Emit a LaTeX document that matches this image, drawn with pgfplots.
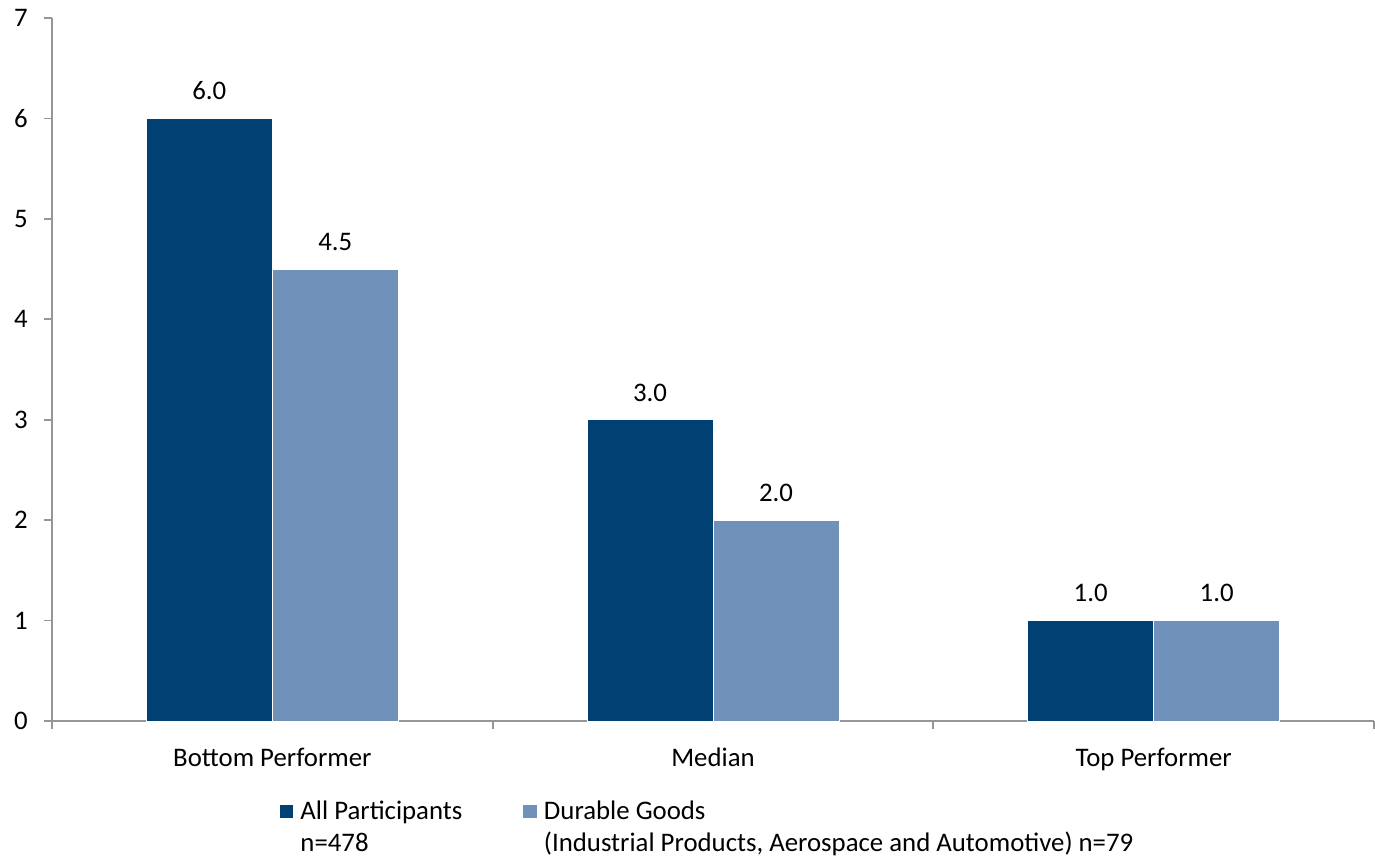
\documentclass[border=0pt]{standalone}
\usepackage{fontspec}
\setmainfont{Carlito}
\usepackage{pgfplots}
\pgfplotsset{compat=1.18}

\definecolor{allpart}{RGB}{0,64,114}
\definecolor{durable}{RGB}{112,146,186}
\definecolor{axisgray}{RGB}{150,150,150}

\begin{document}
\fontsize{13.4}{16.2}\selectfont
\begin{tikzpicture}
% fixed canvas around the plot area
\useasboundingbox (-26pt,-69pt) rectangle (661.5pt,360.5pt);
\begin{axis}[
  at={(0,0)}, anchor=south west,
  scale only axis, width=661pt, height=351.5pt,
  ybar=0pt, bar width=63pt,
  xmin=-0.5, xmax=2.5, ymin=0, ymax=7,
  axis x line*=bottom, axis y line*=left,
  axis line style={axisgray, line width=0.9pt, -},
  xtick={0,1,2},
  xticklabels={Bottom Performer, Median, Top Performer},
  minor xtick={-0.5,0.5,1.5,2.5},
  ytick={0,1,...,7},
  tick align=outside,
  major tick length=4pt, minor tick length=4pt,
  tick style={axisgray, line width=0.9pt},
  major x tick style={draw=none},
  /pgf/number format/assume math mode=true,
  yticklabel style={font=\fontsize{13.4}{16}\selectfont, xshift=-3.5pt},
  xticklabel style={font=\fontsize{13.4}{16}\selectfont, yshift=-5pt},
  nodes near coords,
  point meta=y,
  nodes near coords style={font=\fontsize{13.4}{16}\selectfont, inner sep=0pt, anchor=south, yshift=9pt,
    /pgf/number format/.cd, fixed, fixed zerofill, precision=1, assume math mode=true},
  legend columns=2,
  legend cell align=left,
  legend style={draw=none, fill=none, at={(0.1675,0)}, anchor=north west, yshift=-35.5pt,
    font=\fontsize{13.4}{16.2}\selectfont,
    cells={align=left},
    /tikz/every odd column/.append style={column sep=1.5pt},
    /tikz/every even column/.append style={column sep=28.5pt}},
  legend image code/.code={\fill[#1,draw=none] (0pt,4.75pt) rectangle (6.8pt,11.55pt);},
]
\addplot[fill=allpart, draw=white, line width=0.5pt] coordinates {(0,6.0) (1,3.0) (2,1.0)};
\addplot[fill=durable, draw=white, line width=0.5pt] coordinates {(0,4.5) (1,2.0) (2,1.0)};
\legend{{All Participants\\n=478}, {Durable Goods\\(Industrial Products, Aerospace and Automotive) n=79}}
\end{axis}
\end{tikzpicture}
\end{document}
